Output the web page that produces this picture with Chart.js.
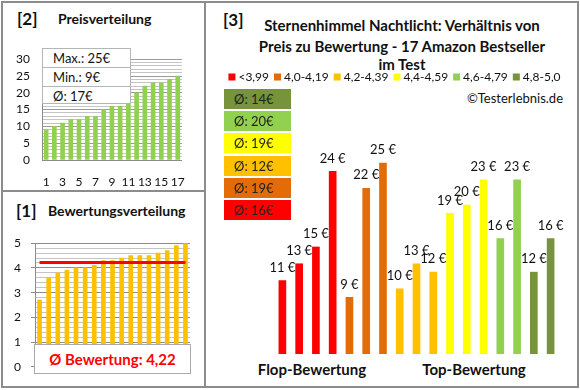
<!DOCTYPE html>
<html>
<head>
<meta charset="utf-8">
<script src="https://cdn.jsdelivr.net/npm/chart.js@4.4.0/dist/chart.umd.min.js"></script>
<style>
  body { margin: 0; background: #fff; font-family: Lato, "Open Sans", sans-serif; color: #111; }
  #wrap { position: relative; width: 580px; height: 390px; overflow: hidden; }
  .box { position: absolute; border: 2px solid #8c8c8c; box-sizing: border-box; }
  .txt { position: absolute; white-space: nowrap; }
  .b { font-weight: bold; }
  canvas { position: absolute; }
  .stat { position: absolute; background: #fff; border: 1px solid #b5b5b5; box-sizing: border-box; }
  .stat div { height: 18px; line-height: 18px; padding-left: 10px; font-size: 13px; border-bottom: 1px solid #b5b5b5; }
  .stat div:last-child { border-bottom: none; }
  .avg { position: absolute; left: 224px; width: 67px; height: 20px; line-height: 20px; font-size: 13px; padding-left: 10px; box-sizing: border-box; color: #222; }
</style>
</head>
<body>
<div id="wrap">
  <div class="box" style="left:1px;top:1px;width:205px;height:191px"></div>
  <div class="box" style="left:1px;top:190px;width:205px;height:198px"></div>
  <div class="box" style="left:204px;top:1px;width:375px;height:387px"></div>

  <div class="txt b" style="left:17px;top:9px;font-size:17px;line-height:20px">[2]</div>
  <div class="txt b" style="left:58px;top:10px;font-size:14px;line-height:18px">Preisverteilung</div>
  <div class="txt b" style="left:16px;top:201px;font-size:17px;line-height:20px">[1]</div>
  <div class="txt b" style="left:48px;top:202px;font-size:14px;line-height:18px">Bewertungsverteilung</div>
  <div class="txt b" style="left:223px;top:10px;font-size:17px;line-height:20px">[3]</div>
  <div class="txt b" style="left:202px;width:400px;text-align:center;top:16px;font-size:15px;line-height:18px">Sternenhimmel Nachtlicht: Verhältnis von</div>
  <div class="txt b" style="left:202px;width:400px;text-align:center;top:37px;font-size:15px;line-height:18px">Preis zu Bewertung - 17 Amazon Bestseller</div>
  <div class="txt b" style="left:202px;width:400px;text-align:center;top:55px;font-size:15px;line-height:18px">im Test</div>
  <div class="txt" style="right:17px;top:89px;font-size:13px;line-height:18px">©Testerlebnis.de</div>
  <div class="txt b" style="left:212px;width:200px;text-align:center;top:360px;font-size:15px;line-height:18px">Flop-Bewertung</div>
  <div class="txt b" style="left:374px;width:200px;text-align:center;top:360px;font-size:15px;line-height:18px">Top-Bewertung</div>

  <canvas id="priceChart" width="198" height="150" style="left:2px;top:40px"></canvas>
  <canvas id="ratingChart" width="198" height="158" style="left:2px;top:226px"></canvas>
  <canvas id="mainChart" width="371" height="322" style="left:206px;top:64px"></canvas>

  <div class="stat" style="left:42px;top:48px;width:89px;height:56px" id="priceStats"></div>
  <div class="stat" style="left:34px;top:344px;width:157px;height:30px;border-color:#aaa">
    <div class="txt b" id="ratingAvgText" style="left:0;width:155px;text-align:center;padding:0;border:none;top:4px;font-size:15px;line-height:20px;color:#ff0000"></div>
  </div>
  <div id="avgBoxes"></div>
</div>

<script>
// sorted prices / ratings (panels [2] and [1])
const positions = ['1', '2', '3', '4', '5', '6', '7', '8', '9', '10', '11', '12', '13', '14', '15', '16', '17'];
const pricesSorted = [9, 10, 11, 12, 12, 13, 13, 15, 16, 16, 19, 20, 22, 23, 23, 24, 25];
const ratingsSorted = [2.7, 3.6, 3.8, 3.9, 4.0, 4.0, 4.1, 4.3, 4.3, 4.4, 4.5, 4.5, 4.5, 4.6, 4.7, 4.9, 5.0];
const ratingAvg = 4.22;
const priceStats = ['Max.: 25€', 'Min.: 9€', 'Ø: 17€'];

// panel [3]: price per product, ordered by rating group
const productPrices = [11, 13, 15, 24, 9, 22, 25, 10, 13, 12, 19, 20, 23, 16, 23, 12, 16];
const productGroup = [0, 0, 0, 0, 1, 1, 1, 2, 2, 2, 3, 3, 3, 4, 4, 5, 5];
const groupNames = ['<3,99', '4,0-4,19', '4,2-4,39', '4,4-4,59', '4,6-4,79', '4,8-5,0'];
const groupColors = ['#ff0000', '#e36c09', '#ffc000', '#ffff00', '#92d050', '#77933c'];
const groupAvg = ['Ø: 16€', 'Ø: 19€', 'Ø: 12€', 'Ø: 19€', 'Ø: 20€', 'Ø: 14€'];

const FONT = 'Lato, "Open Sans", sans-serif';
Chart.defaults.font.family = FONT;
Chart.defaults.color = '#111';
Chart.defaults.animation = false;
Chart.defaults.responsive = false;

// html overlays
document.getElementById('priceStats').innerHTML = priceStats.map(s => `<div>${s}</div>`).join('');
document.getElementById('ratingAvgText').textContent = 'Ø Bewertung: ' + ratingAvg.toFixed(2).replace('.', ',');
const avgWrap = document.getElementById('avgBoxes');
groupAvg.slice().reverse().forEach((t, i) => {
    const d = document.createElement('div');
    d.className = 'avg';
    d.style.top = (89 + i * 22.2) + 'px';
    d.style.background = groupColors[groupColors.length - 1 - i];
    d.textContent = t;
    avgWrap.appendChild(d);
});

const isInt = v => Math.abs(v - Math.round(v)) < 1e-6;

// [2] Preisverteilung
new Chart(document.getElementById('priceChart'), {
    type: 'bar',
    data: { labels: positions, datasets: [{ data: pricesSorted, backgroundColor: '#92d050', barThickness: 4 }] },
    options: {
        layout: { padding: { top: 8, right: 10, left: 0, bottom: 0 } },
        plugins: { legend: { display: false }, tooltip: { enabled: false } },
        scales: {
            x: {
                grid: { display: false, drawTicks: false },
                border: { color: '#8c8c8c' },
                ticks: { autoSkip: false, maxRotation: 0, padding: 15, font: { size: 12 },
                    callback: (v, i) => i % 2 === 0 ? positions[i] : '' },
                afterFit: s => { s.height = 30; }
            },
            y: {
                min: 0, max: 30,
                grid: { drawTicks: false, color: c => c.tick.value % 5 === 0 ? '#9a9a9a' : '#c4c4c4' },
                border: { color: '#8c8c8c' },
                ticks: { stepSize: 1, autoSkip: false, padding: 12, font: { size: 12 },
                    callback: v => v % 5 === 0 ? v : '' },
                afterFit: s => { s.width = 40; }
            }
        }
    }
});

// [1] Bewertungsverteilung
new Chart(document.getElementById('ratingChart'), {
    data: {
        labels: positions,
        datasets: [
            { type: 'line', data: [{ x: positions[0], y: ratingAvg }, { x: positions[16], y: ratingAvg }],
              borderColor: '#ff0000', borderWidth: 3, pointRadius: 0, order: 0 },
            { type: 'bar', data: ratingsSorted, backgroundColor: '#ffc000', barThickness: 4, order: 1 }
        ]
    },
    options: {
        layout: { padding: { top: 12, right: 10, left: 0, bottom: 11 } },
        plugins: { legend: { display: false }, tooltip: { enabled: false } },
        scales: {
            x: { display: false },
            y: {
                min: 0, max: 5,
                grid: { tickLength: 4, color: c => isInt(c.tick.value) ? '#8c8c8c' : '#c4c4c4',
                    tickColor: c => isInt(c.tick.value) ? '#8c8c8c' : 'rgba(0,0,0,0)' },
                border: { color: '#8c8c8c' },
                ticks: { stepSize: 0.2, autoSkip: false, padding: 10, font: { size: 12 },
                    callback: v => isInt(v) ? Math.round(v) : '' },
                afterFit: s => { s.width = 33; }
            }
        }
    }
});

// [3] Preis zu Bewertung
const valueLabels = {
    id: 'valueLabels',
    afterDatasetsDraw(chart) {
        const ctx = chart.ctx;
        const meta = chart.getDatasetMeta(0);
        ctx.save();
        ctx.font = '13px ' + FONT;
        ctx.fillStyle = '#111';
        ctx.textAlign = 'center';
        ctx.textBaseline = 'middle';
        meta.data.forEach((bar, i) => {
            ctx.fillText(productPrices[i] + ' €', bar.x, bar.y - 13);
        });
        ctx.restore();
    }
};

// single-row legend across the whole canvas width
const groupLegend = {
    id: 'groupLegend',
    afterDraw(chart) {
        const ctx = chart.ctx;
        ctx.save();
        ctx.font = '12px ' + FONT;
        ctx.textBaseline = 'middle';
        const box = 7, gap = 3, itemGap = 5, y = 13;
        const widths = groupNames.map(n => box + gap + ctx.measureText(n).width);
        const total = widths.reduce((a, b) => a + b, 0) + itemGap * (widths.length - 1);
        let x = 188.5 - total / 2;
        groupNames.forEach((n, i) => {
            ctx.fillStyle = groupColors[i];
            ctx.fillRect(x, y - box / 2, box, box);
            ctx.fillStyle = '#111';
            ctx.fillText(n, x + box + gap, y + 0.5);
            x += widths[i] + itemGap;
        });
        ctx.restore();
    }
};

new Chart(document.getElementById('mainChart'), {
    type: 'bar',
    data: {
        labels: positions,
        datasets: [{ data: productPrices, backgroundColor: productGroup.map(g => groupColors[g]), barThickness: 7 }]
    },
    options: {
        layout: { padding: { top: 26, right: 18, left: 68, bottom: 32 } },
        plugins: { legend: { display: false }, tooltip: { enabled: false } },
        scales: {
            x: { display: false },
            y: { display: false, min: 2.25, max: 33.7 }
        }
    },
    plugins: [valueLabels, groupLegend]
});
</script>
</body>
</html>
